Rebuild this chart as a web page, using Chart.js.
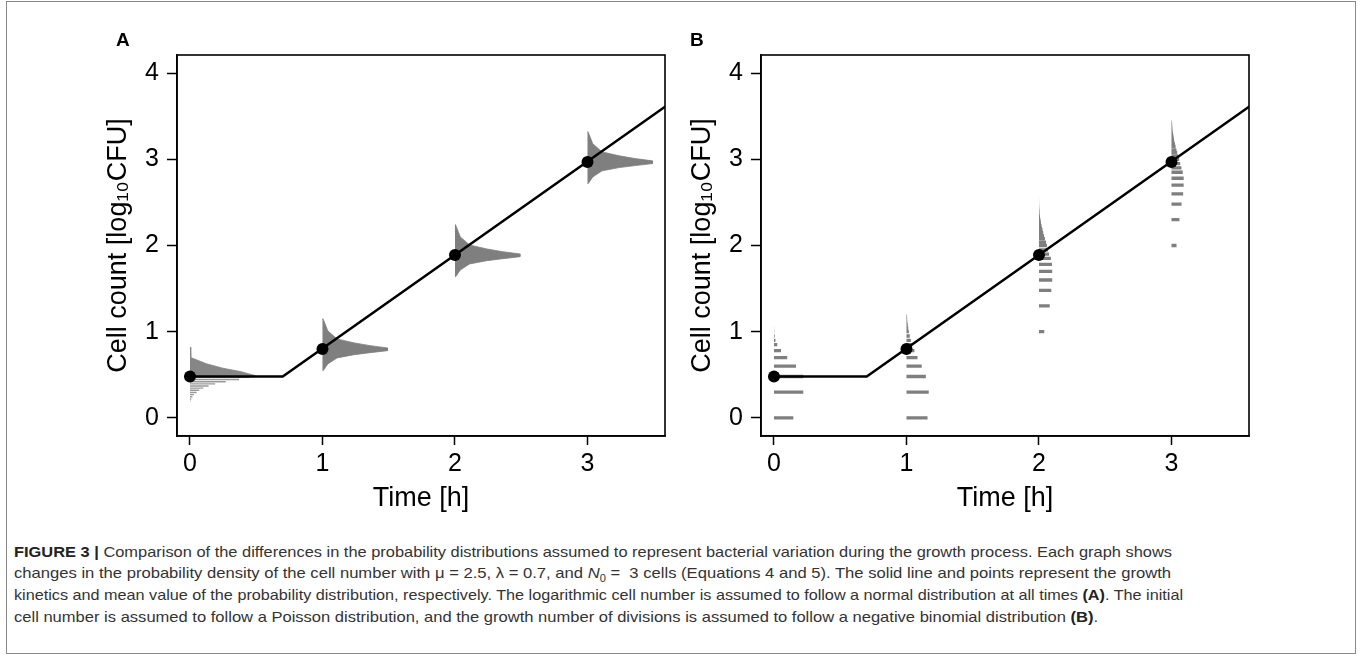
<!DOCTYPE html>
<html><head><meta charset="utf-8">
<script src="https://cdn.jsdelivr.net/npm/chart.js@4.4.0/dist/chart.umd.min.js"></script>
<style>
html,body{margin:0;padding:0;background:#fff;}
#wrap{position:relative;width:1358px;height:656px;overflow:hidden;background:#fff;}
#frame{position:absolute;left:6px;top:1px;width:1350px;height:653px;border:1.5px solid #8a8a8a;box-sizing:border-box;}
canvas.cv{position:absolute;top:0;}
.plab{position:absolute;font:bold 19px "Liberation Sans",Arial,sans-serif;color:#000;}
.cap{position:absolute;left:14px;font:15px "Liberation Sans","Arial",sans-serif;color:#333;white-space:nowrap;transform-origin:0 50%;line-height:18px;}
.cap b{color:#222;}
</style></head>
<body>
<div id="wrap">
  <div id="frame"></div>
  <canvas id="cA" class="cv" width="700" height="520" style="left:0px"></canvas>
  <canvas id="cB" class="cv" width="700" height="520" style="left:584px"></canvas>
  <div class="plab" style="left:116px;top:29px">A</div>
  <div class="plab" style="left:690px;top:29px">B</div>
  <div class="cap" id="l1" style="top:543px"><b>FIGURE 3 |</b> Comparison of the differences in the probability distributions assumed to represent bacterial variation during the growth process. Each graph shows</div>
  <div class="cap" id="l2" style="top:564px">changes in the probability density of the cell number with μ = 2.5, λ = 0.7, and <i>N</i><sub style="font-size:10px">0</sub> =&nbsp; 3 cells (Equations 4 and 5). The solid line and points represent the growth</div>
  <div class="cap" id="l3" style="top:586px">kinetics and mean value of the probability distribution, respectively. The logarithmic cell number is assumed to follow a normal distribution at all times <b>(A)</b>. The initial</div>
  <div class="cap" id="l4" style="top:608px">cell number is assumed to follow a Poisson distribution, and the growth number of divisions is assumed to follow a negative binomial distribution <b>(B)</b>.</div>
</div>
<script>
// ---------------- data ----------------
const xTicks = [0, 1, 2, 3];
const yTicks = [0, 1, 2, 3, 4];
const timePoints = [0, 1, 2, 3];
const meanLogCount = [0.48, 0.80, 1.89, 2.97];
const kineticTime = [0, 0.7, 4.0];
const kineticLog = [0.48, 0.48, 4.06];

// Panel A: normal densities at t = 1, 2, 3 (offset from mean, width in h)
const normOffsetA = [0.35, 0.21, 0.116, 0.07, 0.038, 0.012, -0.02, -0.043, -0.066, -0.104, -0.174, -0.25];
const normWidthA  = [0.004, 0.04, 0.11, 0.24, 0.36, 0.49, 0.49, 0.36, 0.24, 0.11, 0.04, 0.006];
// Panel A: initial density at t = 0 (solid upper part, striped lower part)
const initUpperOffsetA = [0.34, 0.22, 0.147, 0.096, 0.058, 0.012, 0.0];
const initUpperWidthA  = [0.003, 0.006, 0.126, 0.25, 0.38, 0.49, 0.49];
const initStripeOffsetA = [-0.01, -0.035, -0.06, -0.085, -0.11, -0.135, -0.16, -0.185, -0.21, -0.235, -0.26, -0.285];
const initStripeWidthA  = [0.45, 0.37, 0.27, 0.19, 0.14, 0.10, 0.07, 0.05, 0.03, 0.018, 0.01, 0.005];

// Panel B: discrete probabilities (level in log10, width in h)
const levelsB0 = [0.00, 0.30, 0.48, 0.60, 0.70, 0.78, 0.85, 0.90, 0.95, 1.00, 1.04];
const widthsB0 = [0.146, 0.221, 0.221, 0.166, 0.100, 0.053, 0.025, 0.011, 0.005, 0.002, 0.001];
const levelsB1 = [0.00, 0.30, 0.48, 0.60, 0.70, 0.78, 0.85, 0.90, 0.95, 1.00, 1.04, 1.08, 1.11, 1.15, 1.18, 1.20, 1.23, 1.26, 1.28, 1.30, 1.32];
const widthsB1 = [0.159, 0.168, 0.146, 0.115, 0.083, 0.060, 0.045, 0.033, 0.025, 0.018, 0.013, 0.010, 0.007, 0.005, 0.004, 0.003, 0.002, 0.0015, 0.001, 0.0008, 0.0005];
const levelsB2 = [1.00, 1.30, 1.48, 1.60, 1.70, 1.78, 1.85, 1.90, 1.95, 2.00, 2.04, 2.08, 2.11, 2.15, 2.18, 2.20, 2.23, 2.26, 2.28, 2.30, 2.32, 2.34, 2.36, 2.38, 2.40, 2.41, 2.43, 2.45, 2.46, 2.48, 2.49, 2.51, 2.52, 2.53, 2.54];
const widthsB2 = [0.040, 0.081, 0.093, 0.100, 0.100, 0.098, 0.090, 0.076, 0.068, 0.060, 0.053, 0.045, 0.038, 0.032, 0.027, 0.023, 0.019, 0.015, 0.013, 0.011, 0.008, 0.007, 0.005, 0.0045, 0.004, 0.003, 0.0023, 0.0019, 0.0015, 0.0011, 0.0009, 0.0008, 0.0006, 0.0005, 0.0004];
const levelsB3 = [2.00, 2.30, 2.48, 2.60, 2.70, 2.78, 2.85, 2.90, 2.95, 3.00, 3.04, 3.08, 3.11, 3.15, 3.18, 3.20, 3.23, 3.26, 3.28, 3.30, 3.32, 3.34, 3.36, 3.38, 3.40, 3.41, 3.43, 3.45, 3.46, 3.48, 3.49, 3.51, 3.52, 3.53, 3.54, 3.56, 3.57, 3.58, 3.59, 3.60, 3.61, 3.62, 3.63, 3.64, 3.65, 3.66, 3.67, 3.68, 3.69, 3.70];
const widthsB3 = [0.038, 0.060, 0.076, 0.088, 0.092, 0.092, 0.085, 0.075, 0.066, 0.058, 0.050, 0.043, 0.037, 0.031, 0.026, 0.022, 0.019, 0.016, 0.013, 0.011, 0.009, 0.008, 0.007, 0.006, 0.005, 0.0045, 0.004, 0.0035, 0.003, 0.0026, 0.0022, 0.0019, 0.0016, 0.0014, 0.0012, 0.001, 0.0009, 0.0008, 0.0007, 0.0006, 0.0005, 0.0005, 0.0004, 0.0004, 0.0003, 0.0003, 0.0003, 0.0002, 0.0002, 0.0002];

// ---------------- builders ----------------
const GRAY = '#7f7f7f';
function shapePoints(t, m, offs, widths) {
  const pts = [{x: t, y: m + offs[0]}];
  offs.forEach((o, i) => pts.push({x: t + widths[i], y: m + o}));
  pts.push({x: t, y: m + offs[offs.length - 1]});
  return pts;
}
function shapeDataset(pts, color) {
  return {data: pts, showLine: true, fill: 'shape', backgroundColor: color, borderColor: color,
          borderWidth: 0.8, pointRadius: 0, tension: 0, order: 3};
}
function barPoints(t, levels, widths) {
  const pts = [];
  levels.forEach((v, i) => { pts.push({x: t, y: v}); pts.push({x: t + widths[i], y: v}); pts.push({x: t, y: null}); });
  return pts;
}
function barDataset(pts, color, width) {
  return {data: pts, showLine: true, borderColor: color, borderWidth: width, borderCapStyle: 'butt',
          pointRadius: 0, spanGaps: false, fill: false, order: 3};
}
function commonDatasets() {
  return [
    {data: timePoints.map((t, i) => ({x: t, y: meanLogCount[i]})), showLine: false, pointRadius: 6,
     pointBackgroundColor: '#000', pointBorderColor: '#000', pointBorderWidth: 0, order: 0},
    {data: kineticTime.map((t, i) => ({x: t, y: kineticLog[i]})), showLine: true, borderColor: '#000',
     borderWidth: 2.5, pointRadius: 0, fill: false, order: 1}
  ];
}
const frameBox = {
  id: 'frameBox',
  afterDatasetsDraw(chart) {
    const a = chart.chartArea, ctx = chart.ctx;
    ctx.save(); ctx.strokeStyle = '#000'; ctx.lineWidth = 1.6;
    ctx.strokeRect(a.left, a.top, a.right - a.left, a.bottom - a.top); ctx.restore();
  }
};
const FONT = '"Liberation Sans", Arial, sans-serif';
function makeChart(id, datasets) {
  return new Chart(document.getElementById(id), {
    type: 'scatter',
    data: {datasets},
    plugins: [frameBox],
    options: {
      responsive: false, animation: false, events: [],
      layout: {padding: {left: 0, top: 55, right: 35, bottom: 0}},
      plugins: {legend: {display: false}, tooltip: {enabled: false}},
      scales: {
        x: {type: 'linear', min: -0.098, max: 3.585,
            afterBuildTicks: s => { s.ticks = xTicks.map(v => ({value: v})); },
            afterFit: s => { s.height = 84; },
            grid: {drawOnChartArea: false, drawTicks: true, tickLength: 9, tickWidth: 1.5, tickColor: '#000'},
            border: {display: true, color: '#000', width: 1.6},
            ticks: {color: '#000', font: {family: FONT, size: 25}, padding: 4, maxRotation: 0},
            title: {display: true, text: 'Time [h]', color: '#000', font: {family: FONT, size: 27}, padding: {top: 0, bottom: 5}}},
        y: {type: 'linear', min: -0.21, max: 4.21,
            afterBuildTicks: s => { s.ticks = yTicks.map(v => ({value: v})); },
            afterFit: s => { s.width = 177; },
            grid: {drawOnChartArea: false, drawTicks: true, tickLength: 10, tickWidth: 1.5, tickColor: '#000'},
            border: {display: true, color: '#000', width: 1.6},
            ticks: {color: '#000', font: {family: FONT, size: 25}, padding: 8},
            title: {display: true, text: 'Cell count [log₁₀CFU]', color: '#000', font: {family: FONT, size: 27}, padding: {top: 102, bottom: 0}}}
      }
    }
  });
}

// Panel A
const dsA = commonDatasets();
dsA.push(shapeDataset(shapePoints(timePoints[0], meanLogCount[0], initUpperOffsetA, initUpperWidthA), '#868686'));
dsA.push(barDataset(barPoints(timePoints[0], initStripeOffsetA.map(o => meanLogCount[0] + o), initStripeWidthA), '#999999', 1.4));
for (let i = 1; i < timePoints.length; i++) {
  dsA.push(shapeDataset(shapePoints(timePoints[i], meanLogCount[i], normOffsetA, normWidthA), GRAY));
}
makeChart('cA', dsA);

// Panel B
const dsB = commonDatasets();
dsB.push(barDataset(barPoints(timePoints[0], levelsB0, widthsB0), GRAY, 3.3));
dsB.push(barDataset(barPoints(timePoints[1], levelsB1, widthsB1), GRAY, 3.3));
dsB.push(barDataset(barPoints(timePoints[2], levelsB2, widthsB2), GRAY, 3.3));
dsB.push(barDataset(barPoints(timePoints[3], levelsB3, widthsB3), GRAY, 3.3));
makeChart('cB', dsB);

// caption line widths
const capEnds = {l1: 1172, l2: 1171, l3: 1183, l4: 1098};
for (const id in capEnds) {
  const el = document.getElementById(id);
  const w = el.getBoundingClientRect().width;
  el.style.transform = 'scaleX(' + ((capEnds[id] - 14) / w) + ')';
}
</script>
</body></html>
